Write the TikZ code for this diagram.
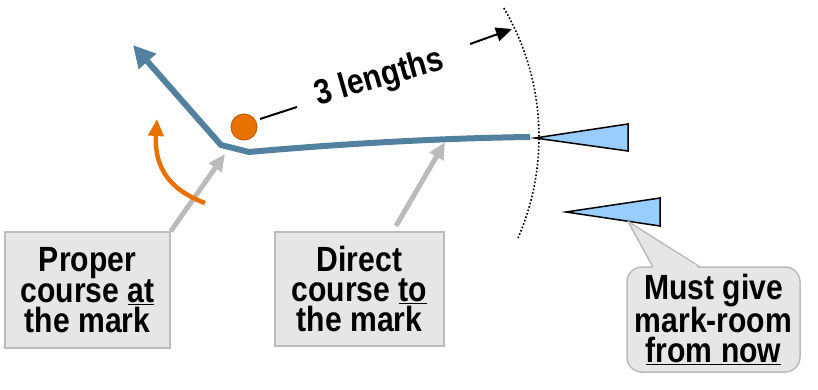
\documentclass[tikz,border=0pt]{standalone}
\usepackage{fontspec}
\newfontfamily\narrowfont{Liberation Sans}[FakeStretch=0.86]
\usetikzlibrary{arrows.meta}
\definecolor{coursebl}{RGB}{82,128,159}
\definecolor{markor}{RGB}{232,114,0}
\definecolor{markedge}{RGB}{190,95,0}
\definecolor{pointgr}{RGB}{187,187,187}
\definecolor{boxfill}{RGB}{230,230,230}
\definecolor{boatbl}{RGB}{153,204,255}
\tikzset{
  lbl/.style={font=\narrowfont\bfseries\fontsize{35}{30}\selectfont, align=center, inner sep=0pt},
  infobox/.style={lbl, draw=pointgr, fill=boxfill, line width=1.5pt},
  pointer/.style={draw=pointgr, line width=5pt, -{Triangle[length=17pt,width=15pt]}},
  course/.style={draw=coursebl, line width=6pt, line join=round},
  boat/.style={draw=black, fill=boatbl, line width=1.5pt, line join=miter},
}
\begin{document}
\begin{tikzpicture}[x=1pt,y=-1pt]
\useasboundingbox (0,0) rectangle (818,390);
% zone arc
\draw[dotted, line width=1.6pt] plot[domain=-30.5:23.9, samples=60] ({285+254*cos(\x)},{137+254*sin(\x)});
% boats
\draw[boat] (535,138) -- (628,124) -- (628,151) -- cycle;
\draw[boat] (566,212) -- (660,198) -- (660,226) -- cycle;
\coordinate (b2) at (628,221.5);
% course
\coordinate (bend) at (221,145);
\coordinate (kink) at (249,152);
\coordinate (start) at (530,137);
\coordinate (tipA) at (133,45);
\draw[course, -{Triangle[length=22pt,width=22pt]}] (start) .. controls (450,138) and (350,143) .. (kink) -- (bend) -- (tipA);
% mark
\node[circle, fill=markor, draw=markedge, line width=1pt, minimum size=26pt, inner sep=0pt] (mark) at (244,127) {};
% 3 lengths
\node[lbl, rotate=16, anchor=base] (len) at (382,87) {3 lengths};
\coordinate (l1) at (297,107);
\draw[line width=2pt] (mark) ++(16,-8) coordinate (m1) (m1) -- (l1);
\coordinate (a1) at (470,44);
\coordinate (a2) at (512,29);
\draw[line width=2pt, -{Triangle[length=16pt,width=14pt]}] (a1) -- (a2);
% boxes
\node[infobox, minimum width=165pt, minimum height=116pt] (p1) at (87.5,290) {Proper\\course \underline{at}\\the mark};
\node[infobox, minimum width=169pt, minimum height=114pt] (d1) at (359.5,289) {Direct\\course \underline{to}\\the mark};
\coordinate (t1) at (225,154);
\coordinate (t2) at (445,142);
\draw[pointer] (p1.north east) -- (t1);
\coordinate (s2) at (396,226);
\draw[pointer] (s2) -- (t2);
% orange turn arrow
\coordinate (o1) at (205,203);
\coordinate (o2) at (157,119);
\draw[markor, line width=4.5pt, -{Triangle[length=17pt,width=15pt]}] (o1) .. controls (170,190) and (154,168) .. (o2);
% callout
\node[infobox, rounded corners=15pt, minimum width=173pt, minimum height=105pt] (cl) at (713.5,319.5) {Must give\\mark-room\\\underline{from now}};
\fill[boxfill] (653,269) -- (b2) -- (700,269) -- cycle;
\draw[pointgr, line width=1.5pt, line join=round] (653,267) -- (b2) -- (700,267);
\end{tikzpicture}
\end{document}
